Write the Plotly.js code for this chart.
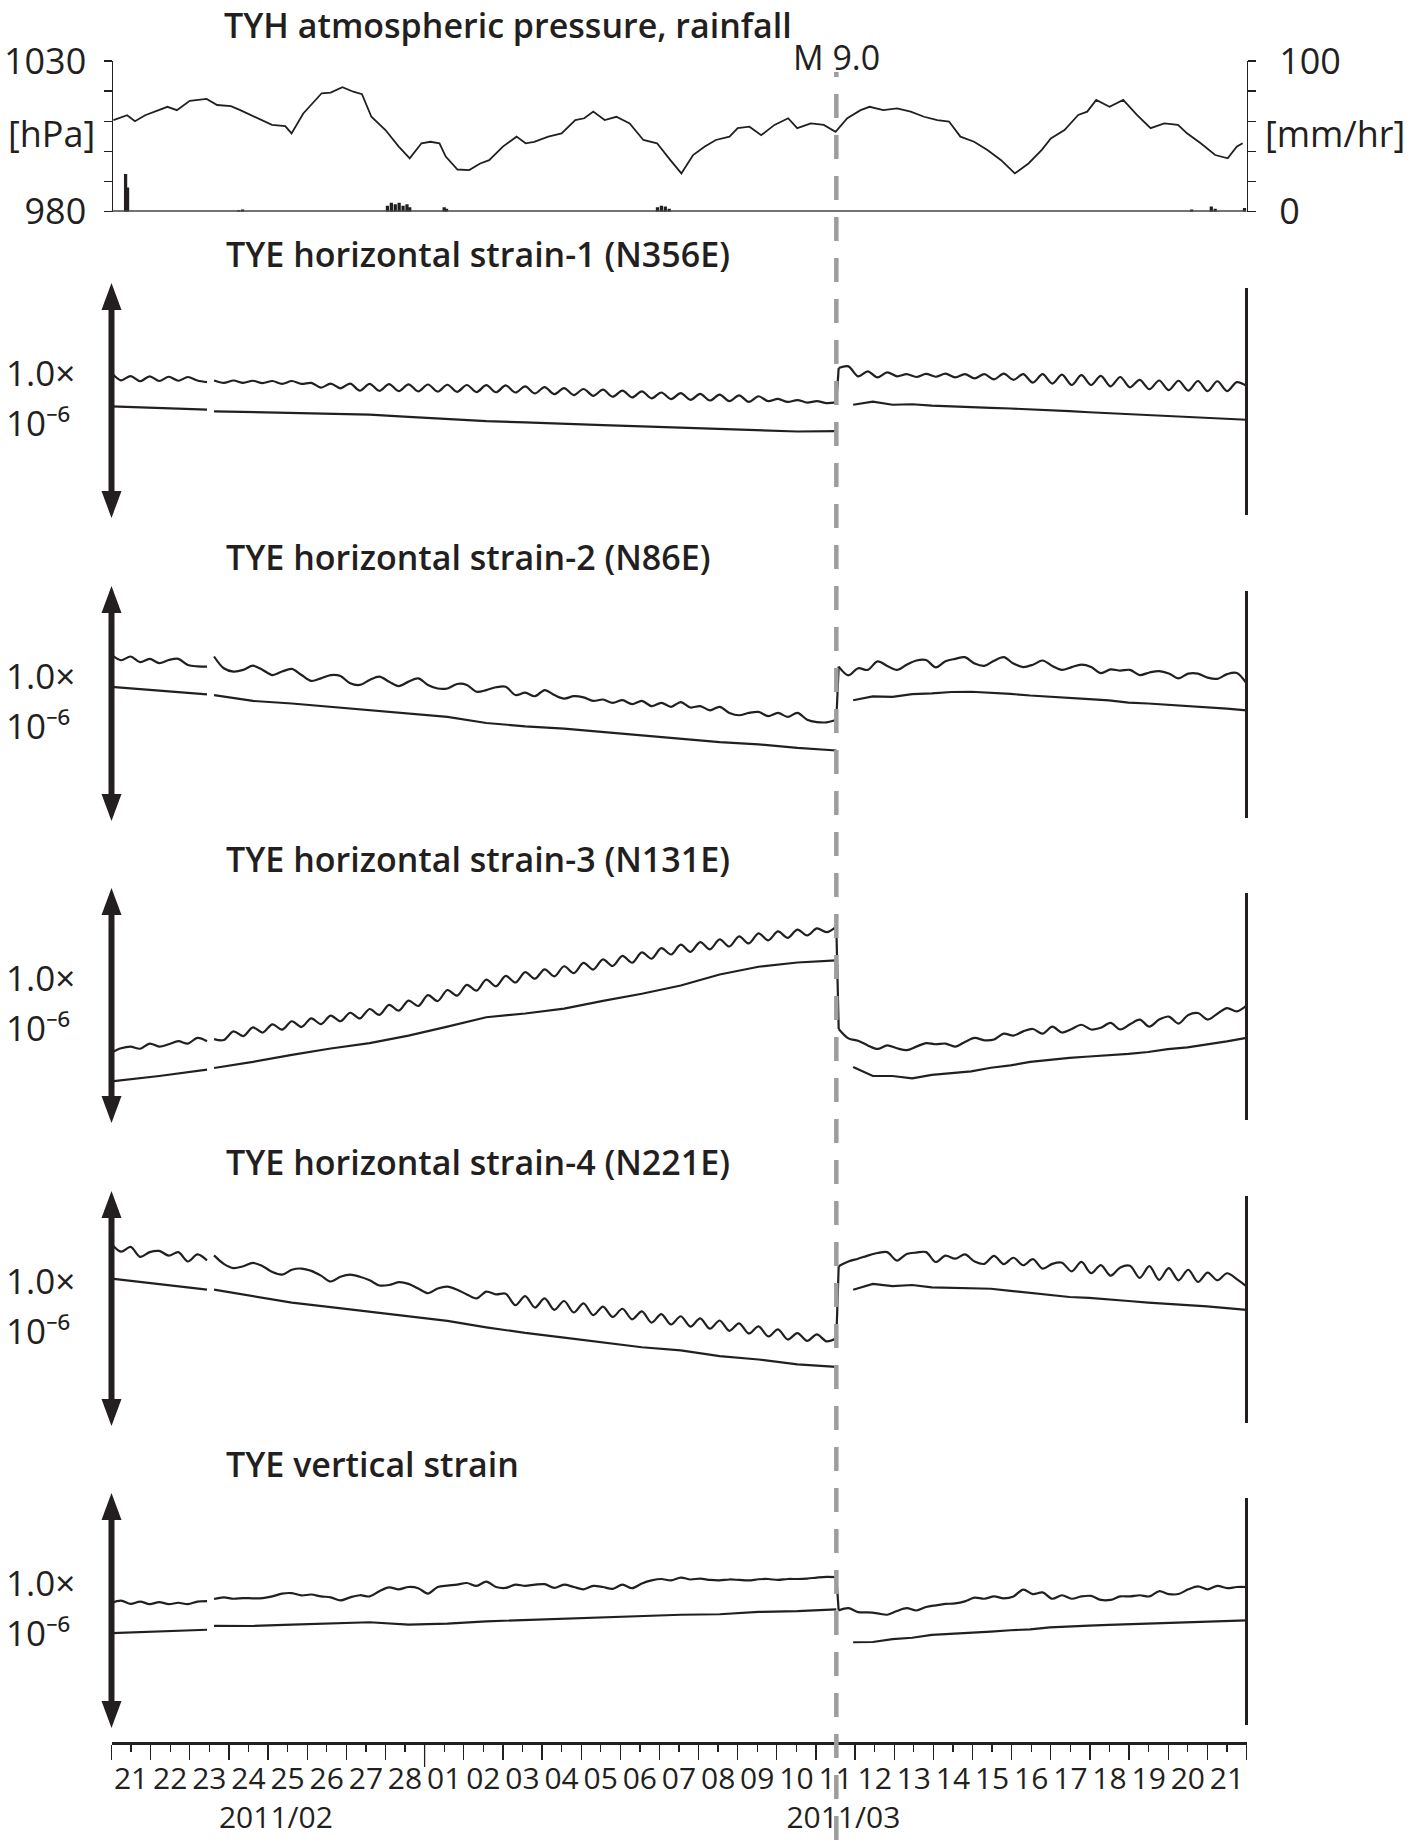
<!DOCTYPE html>
<html><head><meta charset="utf-8">
<script src="https://cdn.plot.ly/plotly-3.0.1.min.js"></script>
<style>html,body{margin:0;padding:0;background:#fff}</style>
</head><body><div id="chart" style="width:1421px;height:1840px"></div>
<script>
// ---------------- DATA (days counted from 2011-02-21 00:00) ----------------
const pressDay = [0.05,0.4,0.6,0.86,1.43,1.67,2.0,2.43,2.7,3.05,3.29,3.75,4.1,4.44,4.6,4.9,5.37,5.6,5.9,6.18,6.4,6.64,7.0,7.34,7.62,7.92,8.15,8.38,8.54,8.84,9.14,9.42,9.65,10.0,10.35,10.58,10.8,11.16,11.5,11.85,12.08,12.31,12.6,12.9,13.24,13.59,13.94,14.28,14.56,14.86,15.16,15.44,15.79,16.0,16.3,16.6,16.94,17.29,17.52,17.87,18.2,18.5,18.8,19.14,19.37,19.72,20.07,20.42,20.76,21.1,21.4,21.69,22.04,22.38,22.73,23.08,23.43,23.77,24.0,24.35,24.7,24.93,25.16,25.5,25.85,26.2,26.55,26.9,27.25,27.48,27.83,28.2,28.52,28.75,28.9];
const pressHpa = [1010.4,1012,1010,1012,1014.8,1013.7,1016.8,1017.4,1015.4,1015,1013.7,1011,1008.8,1008.4,1006,1012.6,1019.3,1019.5,1021.3,1019.8,1019,1011.5,1007.1,1001.6,997.7,1002.7,1003.2,1002.7,998.3,994.0,993.8,996.0,997.1,1001.6,1004.9,1002.7,1003.2,1004.9,1006,1010.4,1011,1013.2,1010.4,1011.5,1009.3,1003.8,1002.7,997.1,992.7,998.8,1001.6,1003.8,1004.9,1007.7,1008.2,1005.4,1008.8,1011,1007.7,1009.3,1008.8,1006.5,1011,1013.7,1014.8,1013.7,1014.3,1013.2,1011.5,1010.4,1009.9,1004.9,1003.2,1000.5,997.1,992.7,996.0,1000.5,1004.3,1007.1,1012.1,1013.2,1017.1,1014.8,1017.1,1012.1,1007.7,1009.3,1008.8,1006,1002.7,998.8,997.7,1001.6,1002.7];
const rainDay = [0.36,0.41,3.25,3.35,7.05,7.15,7.25,7.35,7.45,7.55,7.62,8.5,8.56,13.95,14.05,14.15,14.25,27.6,28.1,28.2,28.95];
const rainMmHr = [25,16,1,1.5,4,6,5,6,4,5,3,3,2,3,4,3.5,2,1.5,3.5,2,2.5];

// sampling windows of each record segment (days)
const segA = [0, 2.44];        // before data gap
const segPre = [2.62, 18.52];  // after gap until the earthquake
const segPost = [18.58, 29.0]; // after earthquake (raw)
const segLowPost = [18.95, 29.0]; // after earthquake (corrected)

// strain values, in units of 1.0e-6 (scale arrow = 1.0)
const s1UpA = [0.617,0.586,0.604,0.582,0.603,0.583,0.601,0.584,0.600,0.585,0.578];
const s1UpPre = [.585,.575,.585,.575,.584,.574,.583,.571,.583,.571,.575,.555,.572,.552,.572,.542,.571,.541,.570,.540,.569,.539,.568,.538,.567,.537,.566,.536,.565,.535,.564,.534,.560,.530,.557,.527,.553,.523,.549,.520,.546,.516,.542,.513,.539,.509,.534,.506,.531,.503,.528,.500,.525,.497,.522,.494,.518,.497,.507,.494,.502,.491,.497,.489,.492];
const s1UpPost = [.638,.645,.603,.624,.598,.620,.603,.612,.600,.613,.601,.614,.598,.612,.594,.612,.590,.614,.588,.612,.576,.612,.572,.610,.566,.608,.566,.605,.560,.600,.556,.588,.548,.585,.544,.584,.542,.583,.540,.582,.540,.578,.562];
const s1LowA = [.475,.468,.461];
const s1LowPre = [.454,.450,.446,.443,.440,.430,.420,.412,.407,.400,.395,.390,.385,.380,.376,.368,.370];
const s1LowPost = [.482,.495,.482,.484,.478,.474,.471,.469,.466,.463,.461,.455,.450,.446,.441,.436,.432,.428,.425,.422,.418];

const s2UpA = [.707,.684,.700,.676,.690,.672,.685,.690,.664,.658,.657];
const s2UpPre = [.700,.650,.636,.643,.661,.643,.621,.636,.647,.621,.596,.607,.621,.617,.586,.579,.600,.614,.593,.574,.593,.607,.579,.564,.564,.583,.579,.550,.557,.569,.571,.536,.546,.531,.557,.536,.521,.531,.526,.511,.517,.503,.514,.497,.511,.489,.503,.486,.506,.483,.489,.471,.486,.460,.450,.460,.464,.446,.460,.443,.460,.431,.421,.420,.431];
const s2UpPost = [.657,.620,.650,.643,.679,.660,.643,.665,.683,.685,.654,.680,.690,.697,.670,.660,.682,.697,.670,.655,.665,.683,.660,.643,.655,.665,.655,.629,.645,.640,.643,.621,.632,.638,.628,.607,.627,.627,.610,.605,.625,.630,.586];
const s2LowA = [.571,.556,.539];
const s2LowPre = [.536,.511,.500,.486,.471,.457,.443,.417,.403,.393,.379,.364,.350,.336,.326,.311,.300];
const s2LowPost = [.514,.530,.528,.540,.543,.549,.550,.546,.541,.534,.530,.524,.519,.513,.504,.500,.495,.490,.484,.478,.471];

const s3UpA = [.300,.318,.325,.316,.338,.325,.335,.348,.338,.362,.348];
const s3UpPre = [.357,.353,.390,.370,.407,.385,.420,.397,.433,.409,.445,.421,.457,.433,.469,.445,.485,.460,.503,.478,.521,.498,.544,.519,.566,.542,.588,.563,.610,.582,.626,.598,.642,.614,.654,.624,.667,.638,.681,.653,.696,.668,.711,.682,.726,.699,.744,.717,.759,.728,.770,.739,.781,.751,.794,.764,.807,.777,.815,.788,.823,.798,.828,.812,.836];
const s3UpPost = [.400,.360,.350,.330,.315,.330,.318,.310,.325,.340,.335,.338,.325,.345,.362,.352,.355,.380,.372,.390,.400,.380,.410,.385,.400,.418,.398,.405,.426,.398,.420,.440,.410,.440,.453,.423,.460,.468,.440,.465,.489,.475,.500];
const s3LowA = [.177,.200,.227];
const s3LowPre = [.234,.260,.290,.317,.340,.372,.410,.450,.466,.487,.520,.550,.585,.632,.665,.683,.692];
const s3LowPost = [.238,.200,.200,.190,.205,.212,.220,.235,.245,.260,.270,.277,.283,.288,.294,.302,.314,.322,.333,.347,.362];

const s4UpA = [.775,.742,.762,.720,.740,.745,.725,.740,.700,.730,.705];
const s4UpPre = [.726,.690,.672,.680,.694,.680,.655,.644,.665,.670,.660,.640,.615,.635,.644,.635,.620,.598,.600,.612,.605,.585,.565,.585,.593,.580,.560,.543,.572,.560,.563,.514,.553,.504,.543,.494,.532,.483,.522,.472,.508,.464,.499,.454,.488,.440,.476,.432,.467,.423,.458,.414,.449,.405,.437,.394,.424,.381,.411,.368,.395,.362,.390,.360,.373];
const s4UpPost = [.680,.700,.712,.725,.736,.740,.704,.732,.738,.740,.698,.725,.712,.730,.700,.690,.724,.689,.716,.684,.710,.670,.690,.695,.658,.698,.650,.685,.640,.675,.682,.630,.680,.622,.672,.620,.665,.613,.653,.620,.650,.625,.594];
const s4LowA = [.627,.604,.580];
const s4LowPre = [.580,.553,.525,.506,.486,.467,.447,.420,.396,.376,.355,.335,.322,.297,.283,.262,.252];
const s4LowPost = [.580,.605,.595,.600,.590,.587,.586,.584,.575,.567,.560,.549,.545,.540,.532,.525,.518,.514,.509,.500,.494];

const s5UpA = [.532,.542,.528,.538,.527,.536,.527,.533,.527,.538,.540];
const s5UpPre = [.549,.556,.550,.553,.552,.553,.560,.572,.574,.564,.568,.560,.556,.543,.556,.565,.560,.582,.598,.590,.600,.595,.572,.600,.606,.610,.617,.605,.623,.600,.596,.610,.605,.610,.612,.596,.610,.600,.590,.605,.600,.592,.610,.595,.615,.628,.634,.628,.640,.632,.636,.630,.628,.632,.630,.628,.633,.634,.630,.634,.634,.636,.640,.643,.642];
const s5UpPost = [.500,.510,.493,.492,.488,.482,.498,.510,.500,.515,.522,.528,.530,.539,.555,.550,.560,.552,.560,.589,.570,.577,.550,.565,.550,.560,.562,.545,.545,.560,.560,.565,.560,.582,.570,.570,.590,.603,.590,.605,.595,.600,.600];
const s5LowA = [.404,.410,.418];
const s5LowPre = [.435,.434,.440,.446,.450,.440,.444,.454,.460,.466,.472,.478,.482,.484,.494,.497,.505];
const s5LowPost = [.365,.366,.378,.384,.396,.400,.403,.410,.416,.420,.428,.433,.436,.439,.442,.445,.448,.451,.454,.456,.458];

const panelTitles = ['TYE horizontal strain-1 (N356E)','TYE horizontal strain-2 (N86E)','TYE horizontal strain-3 (N131E)','TYE horizontal strain-4 (N221E)','TYE vertical strain'];
const scaleLabelTop = '1.0×';
const scaleLabelBottom = '10⁻⁶';
const dayLabels = ['21','22','23','24','25','26','27','28','01','02','03','04','05','06','07','08','09','10','11','12','13','14','15','16','17','18','19','20','21'];
const monthLabels = ['2011/02','2011/03'];
const monthLabelIndex = [4, 18];      // day label under which the month is written
const monthLabelPad = [[0, 3], [2, 0]]; // leading / trailing no-break spaces to nudge the month text
const quakeDay = 18.52;
const quakeLabel = 'M 9.0';

// ---------------- LAYOUT HELPERS ----------------
const W = 1421, H = 1840;
const px = v => v / W, py = v => 1 - v / H;
const t0 = Date.UTC(2011, 1, 21), DAY = 86400000;
const toMs = d => t0 + d * DAY;
const sampleTimes = (seg, n) => Array.from({length: n}, (_, i) => toMs(seg[0] + (seg[1] - seg[0]) * i / (n - 1)));

const plotL = 111.5, plotR = 1246.5;
const dayPx = (plotR - plotL) / 29;
const panelTops = [283, 586, 888, 1191, 1493];
const panelH = 235;
const ink = '#231f20';
const FONT = 'Open Sans, Noto Sans, sans-serif';

const panels = [
  [s1UpA, s1UpPre, s1UpPost, s1LowA, s1LowPre, s1LowPost],
  [s2UpA, s2UpPre, s2UpPost, s2LowA, s2LowPre, s2LowPost],
  [s3UpA, s3UpPre, s3UpPost, s3LowA, s3LowPre, s3LowPost],
  [s4UpA, s4UpPre, s4UpPost, s4LowA, s4LowPre, s4LowPost],
  [s5UpA, s5UpPre, s5UpPost, s5LowA, s5LowPre, s5LowPost]
];

// day labels sit at the middle of each day; the month names go on a second line
const NBSP = '\u00A0';
const tickText = dayLabels.map((d, i) => {
  const m = monthLabelIndex.indexOf(i);
  if (m < 0) return d;
  const [lead, trail] = monthLabelPad[m];
  return d + '<br>' + NBSP.repeat(lead) + monthLabels[m] + NBSP.repeat(trail);
});
const tickVals = dayLabels.map((_, i) => toMs(i + 0.5));

const traces = [];
traces.push({type:'scatter', mode:'lines', x: pressDay.map(toMs), y: pressHpa, xaxis:'x', yaxis:'y',
  line:{color: ink, width: 1.8}, hoverinfo:'skip'});
traces.push({type:'bar', x: rainDay.map(toMs), y: rainMmHr, xaxis:'x', yaxis:'y2',
  width: DAY/24*2, marker:{color: ink, line:{width:0}}, hoverinfo:'skip'});

const tickStyle = {ticks:'outside', ticklen:8, tickwidth:1.5, tickcolor: ink};
const layout = {
  width: W, height: H, margin:{l:0,r:0,t:0,b:0},
  paper_bgcolor:'#fff', plot_bgcolor:'rgba(0,0,0,0)', showlegend:false,
  font:{family: FONT, color: ink, size: 30},
  xaxis:{domain:[px(plotL), px(plotR)], type:'date', range:[toMs(0), toMs(29)],
    anchor:'free', position: py(1743), showline:true, linecolor: ink, linewidth:3,
    tickmode:'array', tickvals: tickVals, ticktext: tickText,
    ticks:'outside', ticklen:7, tickwidth:1.3, tickcolor: ink,
    tickangle: 0, ticklabelstandoff: 1,
    tickfont:{size:30, family: FONT, color: ink},
    minor:{tick0: toMs(0), dtick: DAY, ticks:'outside', ticklen:15, tickwidth:1.3, tickcolor: ink, showgrid:false},
    showgrid:false, zeroline:false, fixedrange:true},
  yaxis:Object.assign({domain:[py(211.7), py(61)], range:[980,1030], anchor:'free', position: px(plotL),
    showline:true, linecolor: ink, linewidth:1.5,
    tickvals:[980,1030], ticktext:['980','1030'],
    minor:Object.assign({tickvals:[990,1000,1010,1020], showgrid:false}, tickStyle),
    tickfont:{size:36, family: FONT, color: ink}, ticklabelstandoff: 10,
    showgrid:false, zeroline:false}, tickStyle),
  yaxis2:Object.assign({overlaying:'y', side:'right', anchor:'free', position: px(plotR), range:[0,100],
    showline:true, linecolor: ink, linewidth:1.5,
    tickvals:[0,100], ticktext:['0','100'],
    minor:Object.assign({tickvals:[20,40,60,80], showgrid:false}, tickStyle),
    tickfont:{size:36, family: FONT, color: ink}, ticklabelstandoff: 16,
    showgrid:false, zeroline:false}, tickStyle),
  shapes: [], annotations: []
};

const titleFont = {size:34, weight:600, family: FONT, color: ink};
// top panel texts
layout.annotations.push({xref:'paper', yref:'paper', x: px(222), y: py(25), xanchor:'left', yanchor:'middle',
  text:'TYH atmospheric pressure, rainfall', showarrow:false, font: titleFont});
layout.annotations.push({xref:'paper', yref:'paper', x: px(97), y: py(133), xanchor:'right', yanchor:'middle',
  text:'[hPa]', showarrow:false, font:{size:36, family: FONT, color: ink}});
layout.annotations.push({xref:'paper', yref:'paper', x: px(1263), y: py(133), xanchor:'left', yanchor:'middle',
  text:'[mm/hr]', showarrow:false, font:{size:36, family: FONT, color: ink}});
layout.annotations.push({xref:'x', yref:'paper', x: toMs(quakeDay), y: py(57), xanchor:'center', yanchor:'middle',
  text: quakeLabel, showarrow:false, font:{size:34, family: FONT, color: ink}});
// rainfall baseline
layout.shapes.push({type:'line', xref:'x', yref:'y2', x0: toMs(0), x1: toMs(29), y0:0, y1:0,
  line:{color:'#444', width:3}});

// strain panels
panels.forEach((p, k) => {
  const yid = 'y' + (k + 3), ykey = 'yaxis' + (k + 3);
  const T = panelTops[k], B = T + panelH;
  layout[ykey] = {domain:[py(B), py(T)], range:[0,1], anchor:'free', position: px(plotL), visible:false, fixedrange:true};
  const [upA, upPre, upPost, lowA, lowPre, lowPost] = p;
  const tPre = sampleTimes(segPre, upPre.length), tPost = sampleTimes(segPost, upPost.length);
  // raw (tidal) record before the earthquake
  traces.push({type:'scatter', mode:'lines', xaxis:'x', yaxis: yid,
    x: [...sampleTimes(segA, upA.length), null, ...tPre],
    y: [...upA, null, ...upPre], connectgaps:false,
    line:{color: ink, width:2.2, shape:'spline', smoothing:0.9}, hoverinfo:'skip'});
  // coseismic step
  traces.push({type:'scatter', mode:'lines', xaxis:'x', yaxis: yid,
    x: [tPre[tPre.length-1], tPost[0]], y: [upPre[upPre.length-1], upPost[0]],
    line:{color: ink, width:2.2}, hoverinfo:'skip'});
  // raw record after the earthquake
  traces.push({type:'scatter', mode:'lines', xaxis:'x', yaxis: yid,
    x: tPost, y: upPost,
    line:{color: ink, width:2.2, shape:'spline', smoothing:0.9}, hoverinfo:'skip'});
  // corrected record
  traces.push({type:'scatter', mode:'lines', xaxis:'x', yaxis: yid,
    x: [...sampleTimes(segA, lowA.length), null, ...sampleTimes(segPre, lowPre.length), null, ...sampleTimes(segLowPost, lowPost.length)],
    y: [...lowA, null, ...lowPre, null, ...lowPost], connectgaps:false,
    line:{color: ink, width:2.2}, hoverinfo:'skip'});
  // scale arrow
  layout.shapes.push({type:'line', xref:'paper', yref:'paper', x0: px(plotL), x1: px(plotL), y0: py(B - 22), y1: py(T + 22),
    line:{color: ink, width:6}});
  layout.shapes.push({type:'path', xref:'paper', yref:'paper', fillcolor: ink, line:{width:0},
    path:`M ${px(plotL-10)},${py(T+27)} L ${px(plotL)},${py(T)} L ${px(plotL+10)},${py(T+27)} Z`});
  layout.shapes.push({type:'path', xref:'paper', yref:'paper', fillcolor: ink, line:{width:0},
    path:`M ${px(plotL-10)},${py(B-27)} L ${px(plotL)},${py(B)} L ${px(plotL+10)},${py(B-27)} Z`});
  // right edge line
  layout.shapes.push({type:'line', xref:'paper', yref:'paper', x0: px(plotR), x1: px(plotR), y0: py(B - 3), y1: py(T + 5),
    line:{color: ink, width:3}});
  // labels
  layout.annotations.push({xref:'paper', yref:'paper', x: px(224), y: py(T - 29), xanchor:'left', yanchor:'middle',
    text: panelTitles[k], showarrow:false, font: titleFont});
  layout.annotations.push({xref:'paper', yref:'paper', x: px(4), y: py(T + 89), xanchor:'left', yanchor:'middle',
    text: scaleLabelTop, showarrow:false, font:{size:35, family: FONT, color: ink}});
  layout.annotations.push({xref:'paper', yref:'paper', x: px(4), y: py(T + 139), xanchor:'left', yanchor:'middle',
    text: scaleLabelBottom, showarrow:false, font:{size:35, family: FONT, color: ink}});
});

// month boundary tick
layout.shapes.push({type:'line', xref:'paper', yref:'paper', x0: px(plotL + 8*dayPx), x1: px(plotL + 8*dayPx), y0: py(1743), y1: py(1767),
  line:{color: ink, width:1.3}});

// earthquake dashed line
layout.shapes.push({type:'line', xref:'x', yref:'paper', x0: toMs(quakeDay), x1: toMs(quakeDay), y0: 0, y1: py(72),
  line:{color:'#9d9d9d', width:4.5, dash:'24px,17px'}, layer:'above'});

Plotly.newPlot('chart', traces, layout, {staticPlot:true, displayModeBar:false});
</script></body></html>
